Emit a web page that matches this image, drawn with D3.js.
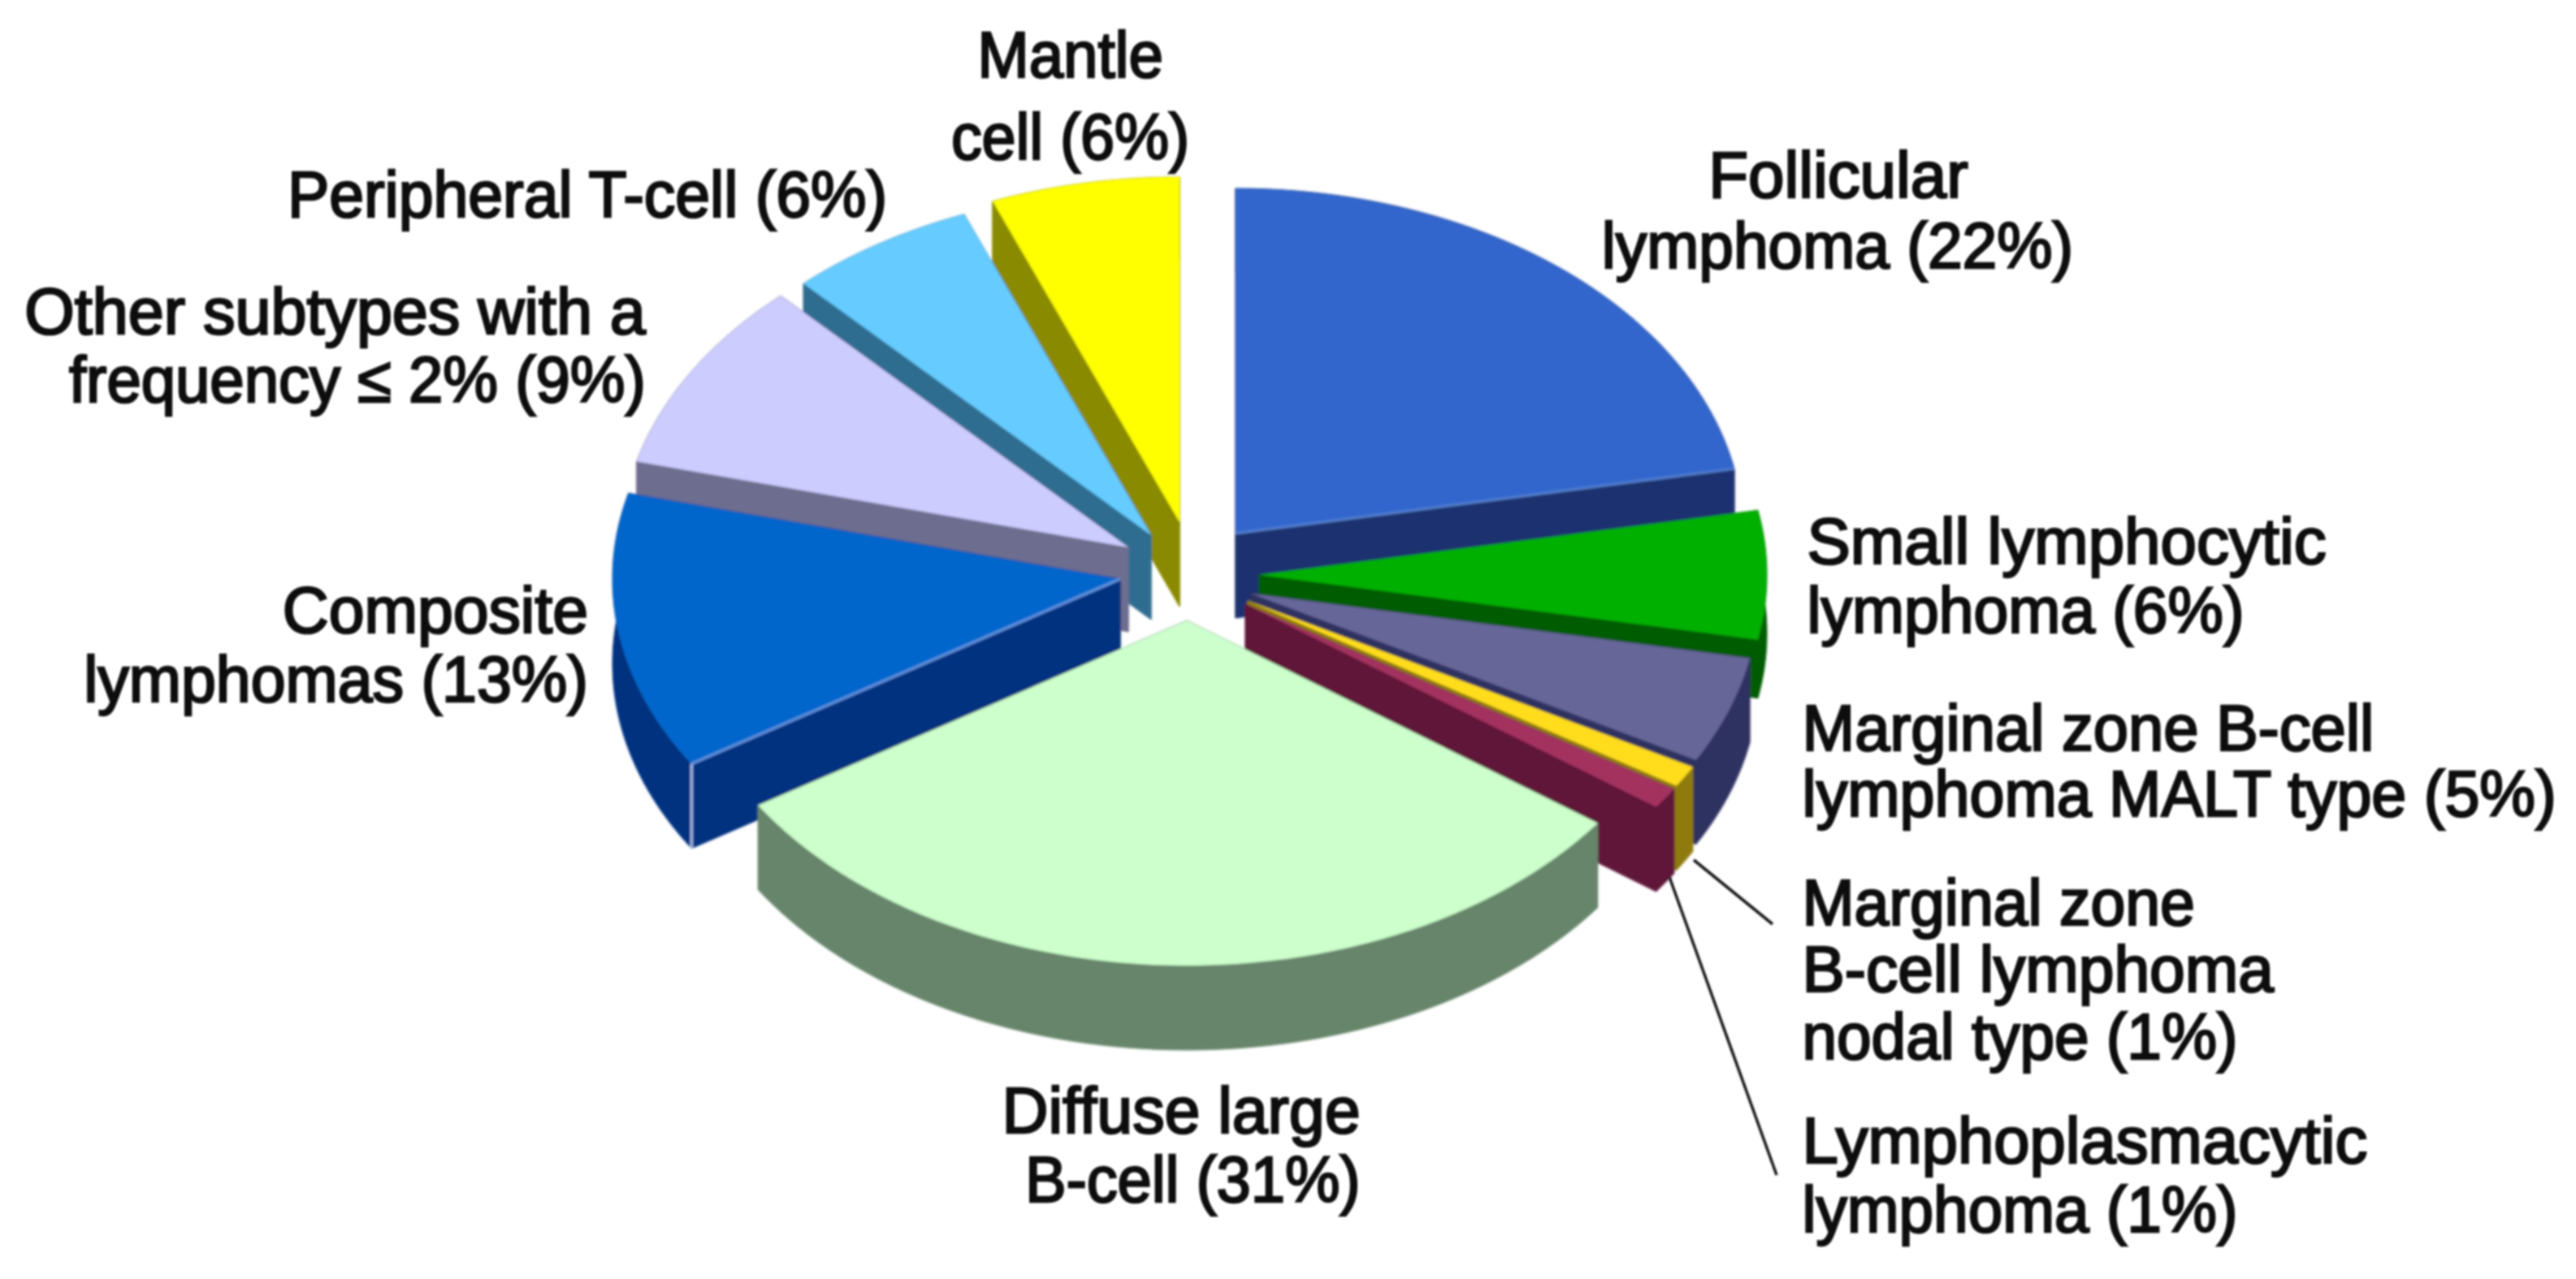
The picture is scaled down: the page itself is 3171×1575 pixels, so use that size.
<!DOCTYPE html>
<html>
<head>
<meta charset="utf-8">
<script src="https://cdn.jsdelivr.net/npm/d3@7/dist/d3.min.js"></script>
<style>
html,body{margin:0;padding:0;background:#fff;}
svg{display:block;}
text{font-family:"Liberation Sans",Arial,sans-serif;fill:#0a0a0a;}
</style>
</head>
<body>
<script>
// ---- data ----
const categories = ["Follicular lymphoma","Small lymphocytic lymphoma","Marginal zone B-cell lymphoma MALT type","Marginal zone B-cell lymphoma nodal type","Lymphoplasmacytic lymphoma","Diffuse large B-cell","Composite lymphomas","Other subtypes with a frequency ≤ 2%","Peripheral T-cell","Mantle cell"];
const values = [22,6,5,1,1,31,13,9,6,6];
const topColors = ["#3366cc","#00b000","#666699","#ffdd1a","#a3305f","#ccffcc","#0066cc","#ccccff","#66ccff","#ffff00"];
const sideColors = ["#1a3370","#005c00","#2f3060","#8f7a10","#5f1238","#66856a","#003380","#6d6d8f","#2f6d90","#8a8a00"];

// ---- layout (not data) ----
const W = 3171, H = 1575;
const rx = 625, ry = 425;
const cx = 1521, cy = 700;
const explode = [[0,-43],[29,8],[19,31],[15,40],[12,44],[-60,64],[-142,13],[-132,-26],[-104,-41],[-69,-57]];
const sideDepth = [104,72,104,104,104,104,104,104,104,104];
const drawOrder = [9,8,7,6,0,1,2,3,4,5];

const labels = [
  {t:"Mantle",x0:595,x1:708,y:47},{t:"cell (6%)",x0:579,x1:724,y:97},
  {t:"Peripheral T-cell (6%)",x0:175,x1:540,y:132},
  {t:"Other subtypes with a",x0:15,x1:393,y:203},{t:"frequency ≤ 2% (9%)",x0:42,x1:393,y:245},
  {t:"Composite",x0:172,x1:358,y:385},{t:"lymphomas (13%)",x0:51,x1:358,y:427},
  {t:"Follicular",x0:1040,x1:1198,y:120},{t:"lymphoma (22%)",x0:975,x1:1262,y:163},
  {t:"Small lymphocytic",x0:1100,x1:1416,y:343},{t:"lymphoma (6%)",x0:1100,x1:1366,y:385},
  {t:"Marginal zone B-cell",x0:1097,x1:1445,y:457},{t:"lymphoma MALT type (5%)",x0:1097,x1:1556,y:497},
  {t:"Marginal zone",x0:1097,x1:1336,y:563},{t:"B-cell lymphoma",x0:1097,x1:1384,y:604},{t:"nodal type (1%)",x0:1097,x1:1362,y:645},
  {t:"Lymphoplasmacytic",x0:1097,x1:1441,y:708},{t:"lymphoma (1%)",x0:1097,x1:1362,y:750},
  {t:"Diffuse large",x0:610,x1:828,y:690},{t:"B-cell (31%)",x0:624,x1:828,y:732}
];
const leaders = [[[2085,1059],[2182,1138]],[[2055,1080],[2187,1447]]];
const k = 3171/1568;

// ---- drawing ----
const svg = d3.select("body").append("svg").attr("width",W).attr("height",H);
const defs = svg.append("defs");
defs.append("filter").attr("id","soft").append("feGaussianBlur").attr("stdDeviation",1.5);
defs.append("filter").attr("id","softText").append("feGaussianBlur").attr("stdDeviation",1.2);

const pie = d3.pie().sort(null).value(d=>d);
const arcs = pie(values);
const line = d3.line();
const pt = (a,ax,ay)=>[ax+rx*Math.sin(a), ay-ry*Math.cos(a)];

const chart = svg.append("g").attr("filter","url(#soft)");

drawOrder.forEach(i=>{
  const a = arcs[i];
  const ax = cx+explode[i][0], ay = cy+explode[i][1];
  const rim = d3.range(0,61).map(j=>pt(a.startAngle+(a.endAngle-a.startAngle)*j/60,ax,ay));
  const g = chart.append("g").attr("class","slice");
  const dp = sideDepth[i];
  const down = p=>[p[0],p[1]+dp];
  const p0=[ax,ay];
  const wall = (pts)=>g.append("path").attr("d",line(pts)+"Z").attr("fill",sideColors[i]).attr("stroke",sideColors[i]).attr("stroke-width",1);
  wall([p0,rim[0],down(rim[0]),down(p0)]);
  wall([p0,rim[60],down(rim[60]),down(p0)]);
  wall(rim.concat(rim.map(down).reverse()));
  g.append("path").attr("d",line([p0].concat(rim))+"Z").attr("fill",topColors[i]);
  if(i===6||i===0){
    const e = i===0 ? rim[60] : rim[0];
    g.append("path").attr("d",line([p0,e])).attr("stroke","#6f9fe8").attr("stroke-width",3).attr("fill","none").attr("opacity",i===0?0.6:0.9);
    if(i===6) g.append("path").attr("d",line([e,down(e)])).attr("stroke","#a8c0e8").attr("stroke-width",3).attr("fill","none");
  }
});

const lg = svg.append("g").attr("filter","url(#softText)");
leaders.forEach(l=>lg.append("path").attr("d",line(l)).attr("stroke","#1a1a1a").attr("stroke-width",3.6).attr("fill","none"));

lg.selectAll("text.lab").data(labels).join("text").attr("class","lab")
  .attr("x",d=>d.x0*k).attr("y",d=>d.y*k)
  .attr("font-size",80)
  .attr("stroke","#0a0a0a").attr("stroke-width",2.6)
  .attr("textLength",d=>(d.x1-d.x0)*k).attr("lengthAdjust","spacingAndGlyphs")
  .text(d=>d.t);
</script>
</body>
</html>
